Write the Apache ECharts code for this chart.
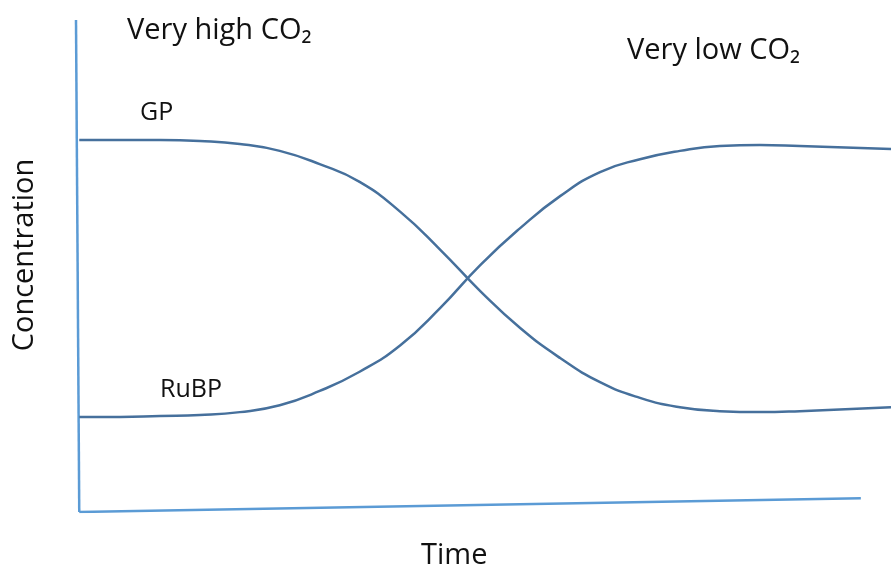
<!DOCTYPE html>
<html lang="en">
<head>
    <meta charset="UTF-8">
    <title>GP and RuBP</title>
    <script src="https://cdn.jsdelivr.net/npm/echarts@6/dist/echarts.min.js"></script>
    <style>
        html,body{margin:0;padding:0;background:#fff}
        #chart{width:891px;height:569px}
    </style>
</head>
<body>
<div id="chart"></div>
<script>
/*
 * data: time 0..100, concentration 0..100
 */
var times=[0.4,5.4,10.3,15.2,20.1,25.0,29.9,34.8,39.8,44.7,49.6,54.5,59.4,64.3,69.2,74.1,79.0,83.9,88.8,100];
var gpConc=[75.6,75.6,75.6,75.4,74.8,73.4,70.7,67.1,61.0,53.3,44.9,37.4,31.3,26.4,23.2,21.3,20.5,20.3,20.5,21.3];
var rubpConc=[19.3,19.3,19.5,19.7,20.3,21.7,24.6,28.5,33.9,41.5,50.2,57.7,64.2,69.1,71.7,73.4,74.4,74.6,74.4,73.8];
// hand drawn axes (slightly tilted in the original)
var axisXLine=[[0.4,0],[96.3,2.8]];
var axisYLine=[[0,100],[0.4,0]];

function pairs(xs,ys){
    var out=[];
    for(var i=0;i<xs.length;i++){out.push([xs[i],ys[i]]);}
    return out;
}

var lineColor='#46709c';
var axisColor='#5b9bd5';
var font='"Open Sans", "Noto Sans", sans-serif';

var myChart=echarts.init(document.getElementById('chart'));
var option={
    animation:false,
    grid:{left:76,right:0,top:20,bottom:57},
    xAxis:{type:'value',min:0,max:100,show:false},
    yAxis:{type:'value',min:0,max:100,show:false},
    series:[
        {type:'line',data:axisYLine,symbol:'none',lineStyle:{color:axisColor,width:2.5},silent:true},
        {type:'line',data:axisXLine,symbol:'none',lineStyle:{color:axisColor,width:2.5},silent:true},
        {name:'GP',type:'line',data:pairs(times,gpConc),smooth:0.5,smoothConstraint:false,symbol:'none',lineStyle:{color:lineColor,width:2.5}},
        {name:'RuBP',type:'line',data:pairs(times,rubpConc),smooth:0.5,smoothConstraint:false,symbol:'none',lineStyle:{color:lineColor,width:2.5}}
    ],
    graphic:[
        {type:'text',left:127,top:16,style:{text:'Very high CO₂',font:'29px '+font,fill:'#111'}},
        {type:'text',left:627,top:36,style:{text:'Very low CO₂',font:'29px '+font,fill:'#111'}},
        {type:'text',left:140,top:100,style:{text:'GP',font:'25px '+font,fill:'#111'}},
        {type:'text',left:160,top:377,style:{text:'RuBP',font:'25px '+font,fill:'#111'}},
        {type:'text',left:421,top:541,style:{text:'Time',font:'29px '+font,fill:'#111'}},
        {type:'text',x:25,y:255,rotation:Math.PI/2,style:{text:'Concentration',font:'29px '+font,fill:'#111',align:'center',verticalAlign:'middle'}}
    ]
};
myChart.setOption(option);
</script>
</body>
</html>
